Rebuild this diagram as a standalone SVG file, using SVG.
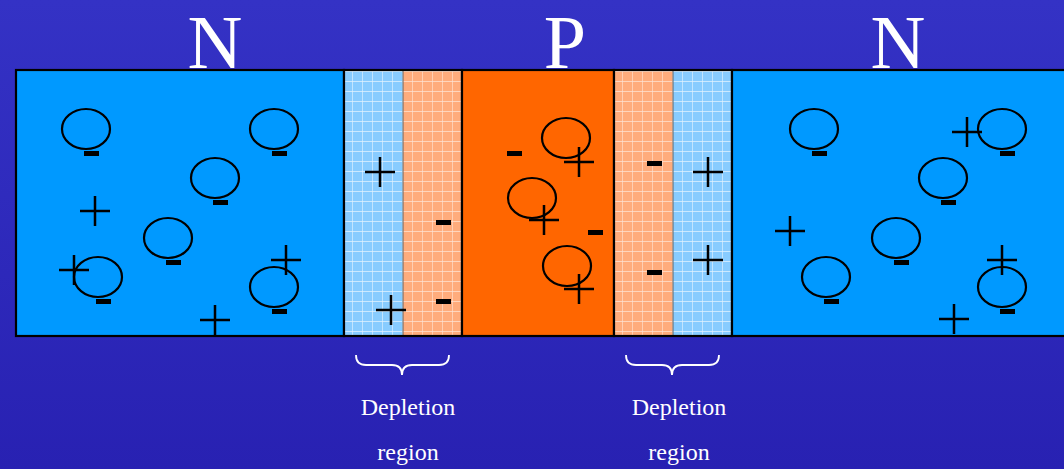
<svg xmlns="http://www.w3.org/2000/svg" xmlns:xlink="http://www.w3.org/1999/xlink" width="1064" height="469" viewBox="0 0 1064 469">
<defs>
<linearGradient id="bg" x1="0" y1="0" x2="0" y2="1">
<stop offset="0" stop-color="#3432C5"/>
<stop offset="1" stop-color="#2821B2"/>
</linearGradient>
<pattern id="gridB" width="10" height="10" patternUnits="userSpaceOnUse" x="2" y="1">
<rect width="10" height="10" fill="#88CCFF"/>
<path d="M0 0h10M0 0v10" stroke="#FFFFFF" stroke-opacity="0.75" stroke-width="1.3" fill="none"/>
</pattern>
<pattern id="gridO" width="10" height="10" patternUnits="userSpaceOnUse" x="2" y="1">
<rect width="10" height="10" fill="#FFAC7C"/>
<path d="M0 0h10M0 0v10" stroke="#FFFFFF" stroke-opacity="0.65" stroke-width="1.3" fill="none"/>
</pattern>
<g id="el">
<ellipse cx="0" cy="0" rx="24" ry="20" fill="none" stroke="#000" stroke-width="2.2"/>
<rect x="-2" y="22" width="15" height="5" fill="#000"/>
</g>
<g id="ring"><ellipse cx="0" cy="0" rx="24" ry="20" fill="none" stroke="#000" stroke-width="2.2"/></g>
<path id="plus" d="M-15 0H15M0 -15V15" stroke="#000" stroke-width="2.5" fill="none"/>
<rect id="minus" width="15" height="5" fill="#000"/>
</defs>
<style>
.lbl{font-family:"Liberation Serif","Times New Roman",serif;fill:#FFFFFF;text-anchor:middle}
.big{font-size:76px}
.small{font-size:24px}
.brace{fill:none;stroke:#FFFFFF;stroke-width:1.8}
.box{stroke:#000;stroke-width:2.2}
</style>
<rect width="1064" height="469" fill="url(#bg)"/>

<g id="region-n-left">
<rect class="box" x="16" y="70" width="328" height="266" fill="#0099FF"/>
<use href="#el" x="86" y="129"/>
<use href="#el" x="274" y="129"/>
<use href="#el" x="215" y="178"/>
<use href="#el" x="168" y="238"/>
<use href="#el" x="98" y="277"/>
<use href="#el" x="274" y="287"/>
<use href="#plus" x="95" y="211"/>
<use href="#plus" x="74" y="270"/>
<use href="#plus" x="286" y="260"/>
<use href="#plus" x="215" y="320"/>
</g>

<g id="depletion-left">
<rect x="344" y="70" width="59" height="266" fill="url(#gridB)"/>
<rect x="403" y="70" width="59" height="266" fill="url(#gridO)"/>
<line x1="403" y1="70" x2="403" y2="336" stroke="#666" stroke-width="1.5" stroke-opacity="0.7"/>
<rect class="box" x="344" y="70" width="118" height="266" fill="none"/>
<use href="#plus" x="380" y="172"/>
<use href="#plus" x="391" y="310"/>
<use href="#minus" x="436" y="220"/>
<use href="#minus" x="436" y="299"/>
</g>

<g id="region-p">
<rect class="box" x="462" y="70" width="152" height="266" fill="#FF6600"/>
<use href="#ring" x="566" y="138"/>
<use href="#plus" x="579" y="162"/>
<use href="#ring" x="532" y="198"/>
<use href="#plus" x="544" y="220"/>
<use href="#ring" x="567" y="266"/>
<use href="#plus" x="579" y="289"/>
<use href="#minus" x="507" y="151"/>
<use href="#minus" x="588" y="230"/>
</g>

<g id="depletion-right">
<rect x="614" y="70" width="59" height="266" fill="url(#gridO)"/>
<rect x="673" y="70" width="59" height="266" fill="url(#gridB)"/>
<line x1="673" y1="70" x2="673" y2="336" stroke="#666" stroke-width="1.5" stroke-opacity="0.7"/>
<rect class="box" x="614" y="70" width="118" height="266" fill="none"/>
<use href="#minus" x="647" y="161"/>
<use href="#minus" x="647" y="270"/>
<use href="#plus" x="708" y="172"/>
<use href="#plus" x="708" y="260"/>
</g>

<g id="region-n-right">
<rect class="box" x="732" y="70" width="340" height="266" fill="#0099FF"/>
<use href="#el" x="814" y="129"/>
<use href="#el" x="1002" y="129"/>
<use href="#el" x="943" y="178"/>
<use href="#el" x="896" y="238"/>
<use href="#el" x="826" y="277"/>
<use href="#el" x="1002" y="287"/>
<use href="#plus" x="967" y="132"/>
<use href="#plus" x="790" y="231"/>
<use href="#plus" x="1002" y="260"/>
<use href="#plus" x="954" y="319"/>
</g>

<g id="labels">
<text class="lbl big" x="215" y="68">N</text>
<text class="lbl big" x="565" y="68">P</text>
<text class="lbl big" x="898" y="68">N</text>
</g>

<g id="connectors">
<path class="brace" d="M356 355 Q356 365 366 365 H392 Q402 365 402 375 Q402 365 412 365 H439 Q449 365 449 355"/>
<path class="brace" d="M626 355 Q626 365 636 365 H662 Q672 365 672 375 Q672 365 682 365 H709 Q719 365 719 355"/>
</g>

<g id="depletion-labels">
<text class="lbl small" x="408" y="415">Depletion</text>
<text class="lbl small" x="408" y="460">region</text>
<text class="lbl small" x="679" y="415">Depletion</text>
<text class="lbl small" x="679" y="460">region</text>
</g>
</svg>
